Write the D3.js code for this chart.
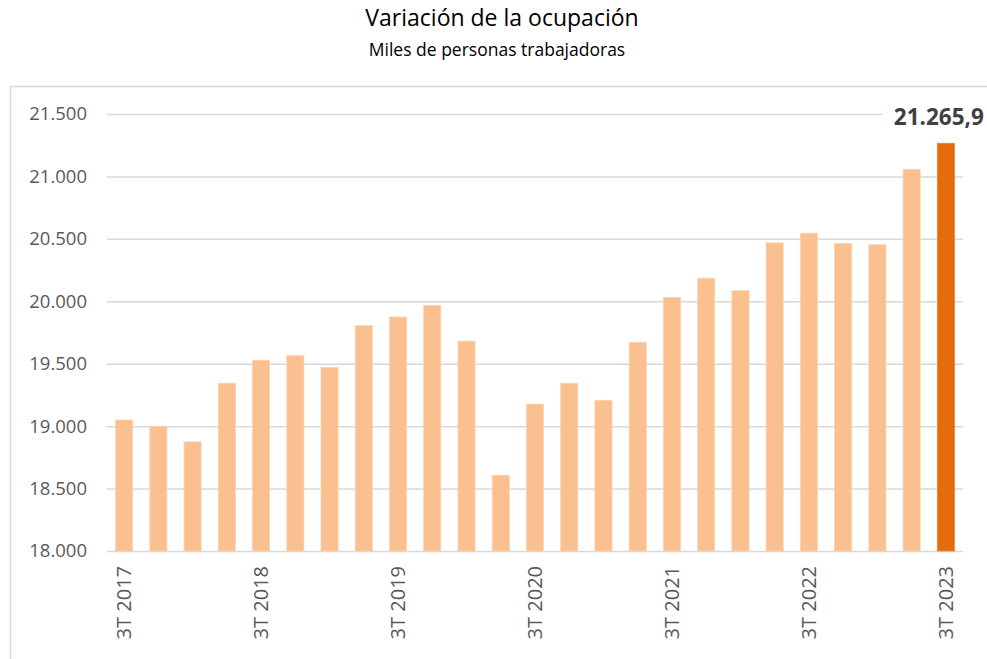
<!DOCTYPE html>
<html>
<head>
<meta charset="utf-8">
<script src="https://cdn.jsdelivr.net/npm/d3@7"></script>
<style>
  body { margin: 0; background: #fff; }
  svg { display: block; font-family: "Open Sans", "Noto Sans", sans-serif; }
</style>
</head>
<body>
<svg id="chart" width="987" height="659"></svg>
<script>
const quarters = [
  "3T 2017", "4T 2017", "1T 2018", "2T 2018", "3T 2018", "4T 2018", "1T 2019", "2T 2019",
  "3T 2019", "4T 2019", "1T 2020", "2T 2020", "3T 2020", "4T 2020", "1T 2021", "2T 2021",
  "3T 2021", "4T 2021", "1T 2022", "2T 2022", "3T 2022", "4T 2022", "1T 2023", "2T 2023", "3T 2023"
];
const employed = [
  19049.2, 18998.4, 18874.2, 19344.1, 19528.0, 19564.6, 19471.1, 19804.9,
  19874.3, 19966.9, 19681.3, 18607.2, 19176.9, 19344.3, 19206.8, 19671.7,
  20031.0, 20184.9, 20084.7, 20468.0, 20545.7, 20463.9, 20452.8, 21056.7, 21265.9
];
const yTicks = [18000, 18500, 19000, 19500, 20000, 20500, 21000, 21500];
const shownLabels = ["3T 2017", "3T 2018", "3T 2019", "3T 2020", "3T 2021", "3T 2022", "3T 2023"];

const esLocale = d3.formatLocale({ decimal: ",", thousands: ".", grouping: [3], currency: ["", "€"] });
const fmtTick = esLocale.format(",.0f");
const fmtVal = esLocale.format(",.1f");

const svg = d3.select("#chart");

// chart frame
svg.append("rect")
  .attr("x", 10.5).attr("y", 86.5)
  .attr("width", 990).attr("height", 600)
  .attr("fill", "none").attr("stroke", "#d9d9d9").attr("stroke-width", 1.5);

svg.append("text")
  .attr("x", 502).attr("y", 26)
  .attr("text-anchor", "middle")
  .attr("font-size", 23).attr("fill", "#000")
  .text("Variación de la ocupación");
svg.append("text")
  .attr("x", 497).attr("y", 56)
  .attr("text-anchor", "middle")
  .attr("font-size", 17.5).attr("fill", "#000")
  .text("Miles de personas trabajadoras");

const plotLeft = 107, plotRight = 963, plotTop = 114, plotBottom = 551;

const x = d3.scaleBand().domain(quarters).range([plotLeft, plotRight]).paddingInner(0.5).paddingOuter(0.25);
const y = d3.scaleLinear().domain([18000, 21500]).range([plotBottom, plotTop]);

// gridlines
svg.append("g")
  .selectAll("line")
  .data(yTicks)
  .join("line")
  .attr("x1", plotLeft).attr("x2", plotRight)
  .attr("y1", d => y(d) + 0.5).attr("y2", d => y(d) + 0.5)
  .attr("stroke", "#d9d9d9").attr("stroke-width", 1.5);

// y labels
svg.append("g")
  .selectAll("text")
  .data(yTicks)
  .join("text")
  .attr("x", 87).attr("y", d => y(d))
  .attr("dy", "0.35em")
  .attr("text-anchor", "end")
  .attr("font-size", 18.5).attr("fill", "#595959")
  .text(d => fmtTick(d));

// bars
const last = quarters.length - 1;
svg.append("g")
  .selectAll("rect")
  .data(employed)
  .join("rect")
  .attr("x", (d, i) => x(quarters[i]))
  .attr("width", x.bandwidth())
  .attr("y", d => y(d))
  .attr("height", d => y(18000) - y(d))
  .attr("fill", (d, i) => i === last ? "#e46c0a" : "#fac090")
  .attr("stroke", (d, i) => i === last ? "#e98a3e" : "#fcd3b0")
  .attr("stroke-width", 0.8);

// x labels
svg.append("g")
  .selectAll("text")
  .data(shownLabels)
  .join("text")
  .attr("transform", d => `translate(${x(d) + x.bandwidth() / 2},566) rotate(-90)`)
  .attr("dy", "0.35em")
  .attr("text-anchor", "end")
  .attr("font-size", 20).attr("fill", "#595959")
  .text(d => d);

// value annotation for last bar
const lastX = x(quarters[last]) + x.bandwidth() / 2;
svg.append("rect")
  .attr("x", 882).attr("y", 100).attr("width", 105).attr("height", 30)
  .attr("fill", "#fff");
svg.append("text")
  .attr("x", lastX + 38).attr("y", 117)
  .attr("dy", "0.35em")
  .attr("text-anchor", "end")
  .attr("font-size", 22.5).attr("font-weight", "bold").attr("fill", "#404040")
  .text(fmtVal(employed[last]));
</script>
</body>
</html>
